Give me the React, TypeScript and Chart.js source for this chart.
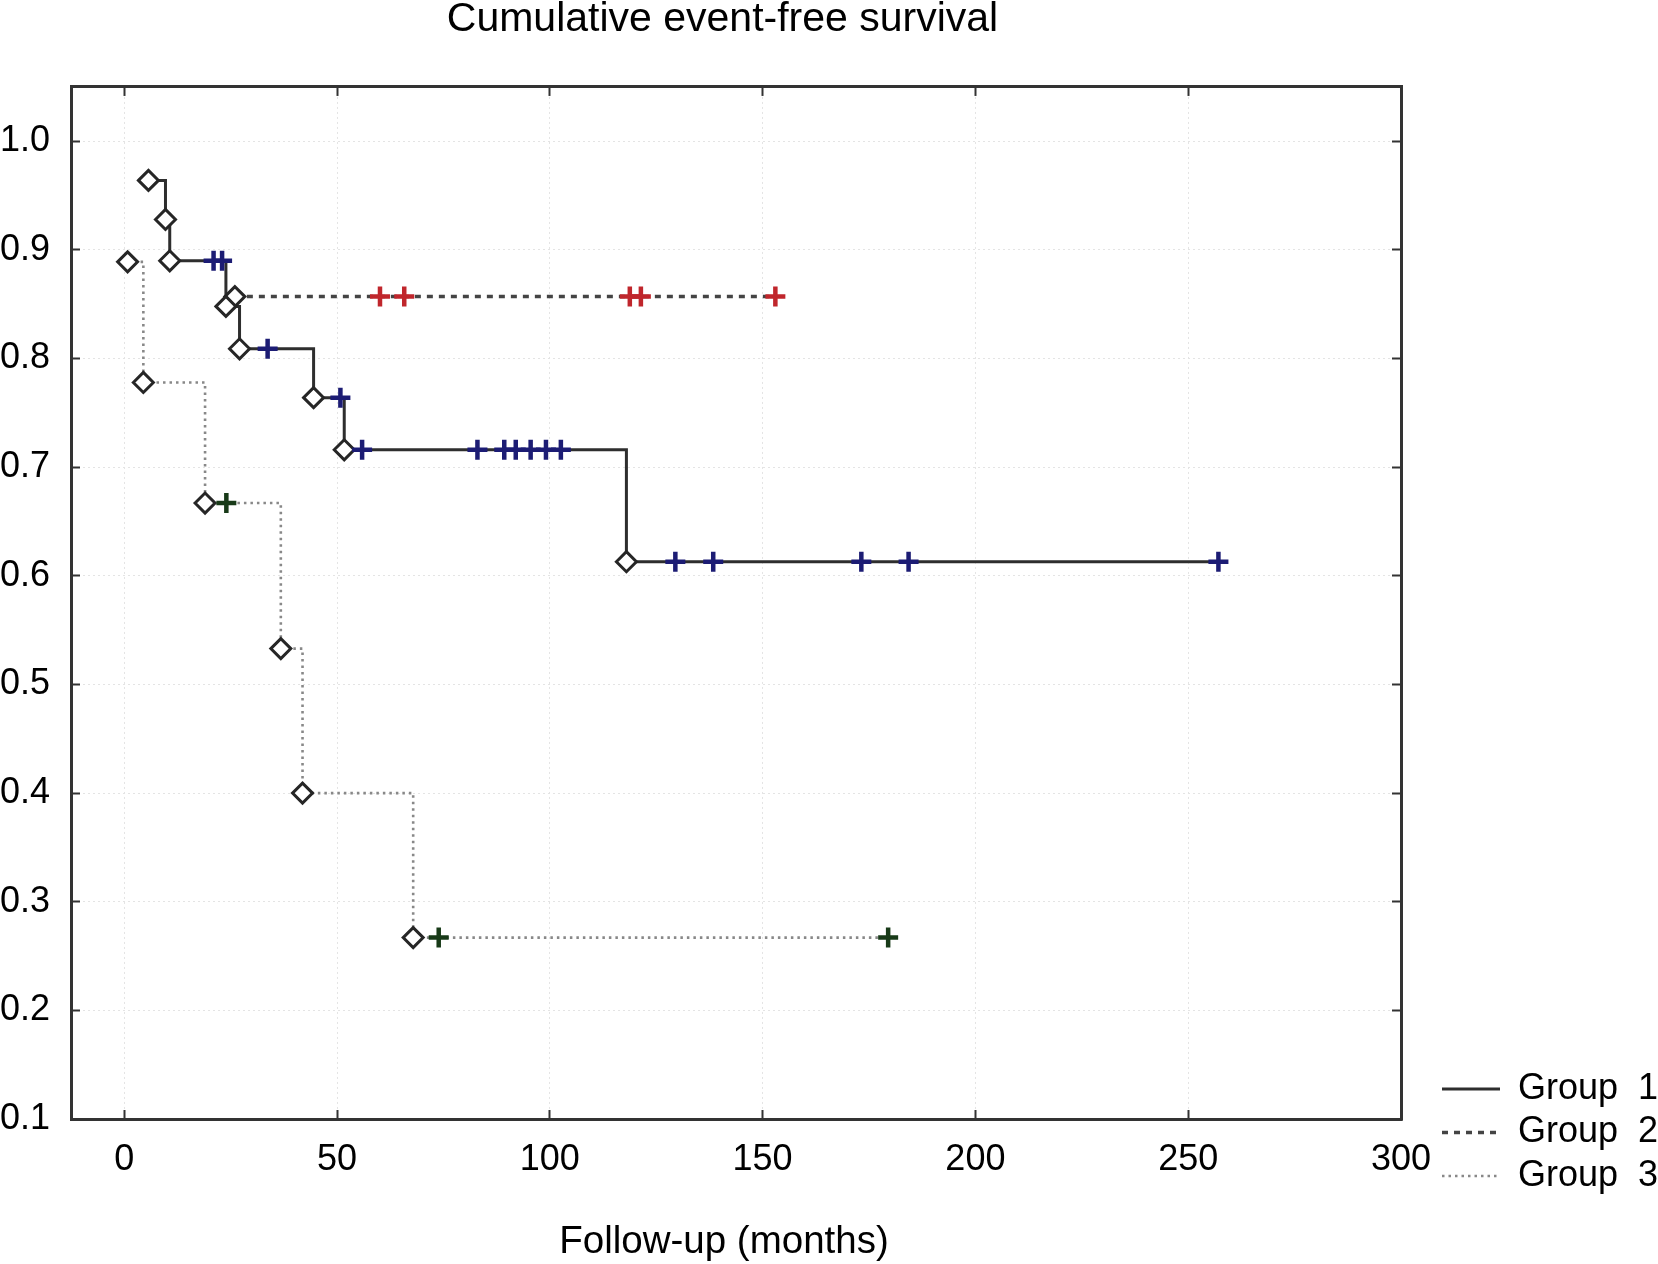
import { useEffect, useRef } from 'react';
import { Chart, registerables } from 'chart.js';

Chart.register(...registerables);

const FONT = "'Liberation Sans', Arial, Helvetica, sans-serif";

// axis ticks
const xTicks = [0, 50, 100, 150, 200, 250, 300];
const yTicks = [0.1, 0.2, 0.3, 0.4, 0.5, 0.6, 0.7, 0.8, 0.9, 1.0];

const xAxisTitle = 'Follow-up (months)';
const legendLabels = ['Group  1', 'Group  2', 'Group  3'];

// group 1 : events (diamonds) and censored cases (+)
const group1EventMonths = [5.7, 9.7, 10.7, 23.9, 27.1, 44.5, 51.7, 118.0];
const group1EventSurvival = [0.964, 0.928, 0.89, 0.848, 0.809, 0.764, 0.716, 0.613];
const group1CensorMonths = [21.0, 23.0, 33.7, 50.8, 55.9, 83.0, 89.3, 92.0, 95.5, 99.1, 102.6, 129.5, 138.4, 173.2, 184.3, 257.1];
const group1CensorSurvival = [0.89, 0.89, 0.809, 0.764, 0.716, 0.716, 0.716, 0.716, 0.716, 0.716, 0.716, 0.613, 0.613, 0.613, 0.613, 0.613];

// group 2
const group2EventMonths = [26.0];
const group2EventSurvival = [0.857];
const group2CensorMonths = [60.1, 65.8, 118.8, 121.4, 153.0];
const group2CensorSurvival = [0.857, 0.857, 0.857, 0.857, 0.857];

// group 3
const group3EventMonths = [0.8, 4.5, 19.0, 36.8, 41.9, 67.9];
const group3EventSurvival = [0.889, 0.778, 0.667, 0.533, 0.4, 0.267];
const group3CensorMonths = [24.0, 73.9, 179.5];
const group3CensorSurvival = [0.667, 0.267, 0.267];

const pts = (xs: number[], ys: number[]) => xs.map((x, i) => ({ x, y: ys[i] }));

// step curve: events, then carried on to the last censored case
const curve = (et: number[], es: number[], ct: number[], cs: number[]) => [
	...pts(et, es),
	{ x: ct[ct.length - 1], y: cs[cs.length - 1] },
];

const lineSet = (label: string, data: any[], color: string, width: number, dash: number[]) => ({
	label,
	data,
	showLine: true,
	stepped: 'before' as const,
	borderColor: color,
	backgroundColor: 'transparent',
	borderWidth: width,
	borderDash: dash,
	pointRadius: 0,
	fill: false,
	order: 3,
});

const eventSet = (data: any[]) => ({
	data,
	pointStyle: 'rectRot',
	pointRadius: 10,
	backgroundColor: '#ffffff',
	borderColor: '#262626',
	borderWidth: 3,
	order: 2,
});

const censorSet = (data: any[], color: string) => ({
	data,
	pointStyle: 'cross',
	pointRadius: 10,
	borderColor: color,
	backgroundColor: color,
	borderWidth: 4.5,
	order: 1,
});

// legend at the lower right, and the x axis title
const sideLegend = {
	id: 'sideLegend',
	afterDraw(chart: any) {
		const { ctx, chartArea } = chart;
		ctx.save();
		ctx.fillStyle = '#000';
		ctx.font = `38.5px ${FONT}`;
		ctx.textBaseline = 'middle';
		ctx.textAlign = 'center';
		ctx.fillText(xAxisTitle, chartArea.left + 653, chartArea.bottom + 123);

		legendLabels.forEach((label, i) => {
			const ds = chart.data.datasets[i];
			const y = chartArea.bottom - 30 + i * 43.5;
			const x0 = chartArea.right + 41;
			ctx.setLineDash(ds.borderDash || []);
			ctx.strokeStyle = ds.borderColor;
			ctx.lineWidth = ds.borderWidth;
			ctx.beginPath();
			ctx.moveTo(x0, y);
			ctx.lineTo(x0 + 58, y);
			ctx.stroke();
			ctx.setLineDash([]);
			ctx.font = `36px ${FONT}`;
			ctx.textAlign = 'left';
			ctx.fillText(label, x0 + 76, y);
		});
		ctx.restore();
	},
};

const frameAxis = (position: string, ticks: number[], min: number, max: number, size: number) => ({
	type: 'linear' as const,
	position,
	min,
	max,
	afterBuildTicks: (s: any) => { s.ticks = ticks.map(v => ({ value: v })); },
	afterFit: (s: any) => {
		if (position === 'top') s.height = size;
		else s.width = size;
	},
	ticks: { display: false },
	grid: { drawOnChartArea: false, tickLength: -9, tickColor: '#333', tickWidth: 2 },
	border: { color: '#333', width: 3 },
});

export default function App() {
	const canvasRef = useRef<HTMLCanvasElement | null>(null);

	useEffect(() => {
		if (!canvasRef.current) return;
		Chart.defaults.font.family = FONT;
		Chart.defaults.color = '#000';

		const chart = new Chart(canvasRef.current, {
			type: 'scatter',
			data: {
				datasets: [
					lineSet('Group 1', curve(group1EventMonths, group1EventSurvival, group1CensorMonths, group1CensorSurvival), '#2e2e2e', 3, []),
					lineSet('Group 2', curve(group2EventMonths, group2EventSurvival, group2CensorMonths, group2CensorSurvival), '#444444', 3.5, [6, 6]),
					lineSet('Group 3', curve(group3EventMonths, group3EventSurvival, group3CensorMonths, group3CensorSurvival), '#888888', 2.6, [2.5, 4]),
					eventSet(pts(group1EventMonths, group1EventSurvival)),
					eventSet(pts(group2EventMonths, group2EventSurvival)),
					eventSet(pts(group3EventMonths, group3EventSurvival)),
					censorSet(pts(group1CensorMonths, group1CensorSurvival), '#1c1c74'),
					censorSet(pts(group2CensorMonths, group2CensorSurvival), '#c0262c'),
					censorSet(pts(group3CensorMonths, group3CensorSurvival), '#183a18'),
				] as any,
			},
			options: {
				animation: false,
				responsive: true,
				maintainAspectRatio: false,
				layout: { padding: { left: 0, right: 213, top: 0, bottom: 0 } },
				plugins: {
					legend: { display: false },
					tooltip: { enabled: false },
					title: {
						display: true,
						text: 'Cumulative event-free survival',
						color: '#000',
						font: { size: 41, weight: 'normal', lineHeight: 0.95 },
						padding: { top: 0, bottom: 48 },
					},
				},
				scales: {
					x: {
						type: 'linear',
						position: 'bottom',
						min: -12.5,
						max: 300,
						afterBuildTicks: (s: any) => { s.ticks = xTicks.map(v => ({ value: v })); },
						afterFit: (s: any) => { s.height = 145; },
						ticks: { font: { size: 36 }, color: '#000', padding: 28, autoSkip: false, maxRotation: 0 },
						grid: { color: '#e4e4e4', lineWidth: 1, tickLength: -9, tickColor: '#333', tickWidth: 2 },
						border: { color: '#333', width: 3, dash: [2, 3] },
					},
					y: {
						type: 'linear',
						position: 'left',
						min: 0.1,
						max: 1.05,
						afterBuildTicks: (s: any) => { s.ticks = yTicks.map(v => ({ value: v })); },
						afterFit: (s: any) => { s.width = 71; },
						ticks: { font: { size: 36 }, color: '#000', padding: 30, callback: (v: any) => Number(v).toFixed(1) },
						grid: { color: '#e4e4e4', lineWidth: 1, tickLength: -9, tickColor: '#333', tickWidth: 2 },
						border: { color: '#333', width: 3, dash: [2, 3] },
					},
					x2: frameAxis('top', xTicks, -12.5, 300, 0),
					y2: frameAxis('right', yTicks, 0.1, 1.05, 44),
				} as any,
			},
			plugins: [sideLegend],
		});
		return () => chart.destroy();
	}, []);

	return (
		<div style={{ position: 'absolute', left: 0, top: 0, width: 1658, height: 1264, background: '#fff' }}>
			<canvas ref={canvasRef}></canvas>
		</div>
	);
}
